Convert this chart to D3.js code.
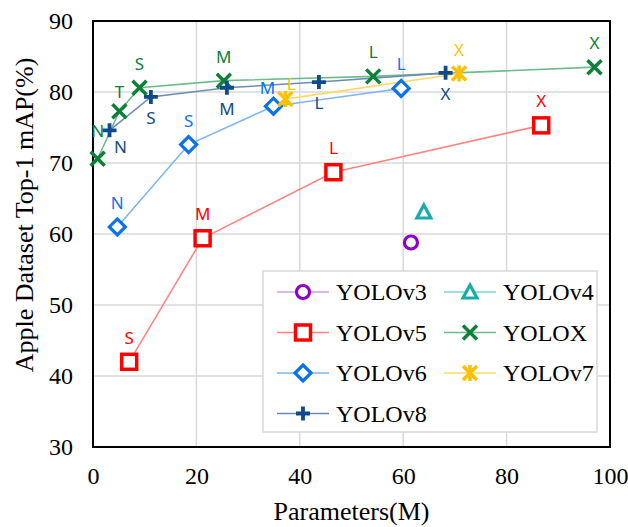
<!DOCTYPE html>
<html>
<head>
<meta charset="utf-8">
<title>Apple Dataset Top-1 mAP vs Parameters</title>
<style>
body{margin:0;background:#fff}
.serif{font-family:"Times New Roman","Liberation Serif",serif}
.lbl{font-family:"Noto Sans","Open Sans",sans-serif}
</style>
</head>
<body>
<script src="https://cdn.jsdelivr.net/npm/d3@7/dist/d3.min.js"></script>
<script>
var width = 628, height = 527;
var margin = {top: 21, right: 18, bottom: 80, left: 93};

// data
var v3Params = [61.5],  v3Map = [58.8],  v3Labels = [""];
var v4Params = [64.0],  v4Map = [63.1],  v4Labels = [""];
var v5Params = [7.0, 21.2, 46.5, 86.7], v5Map = [42.0, 59.4, 68.7, 75.3], v5Labels = ["S","M","L","X"];
var xParams  = [0.9, 5.1, 9.0, 25.3, 54.2, 97.0], xMap = [70.6, 77.3, 80.6, 81.6, 82.2, 83.5], xLabels = ["N","T","S","M","L","X"];
var v6Params = [4.7, 18.5, 34.9, 59.6], v6Map = [61.0, 72.6, 78.0, 80.5], v6Labels = ["N","S","M","L"];
var v7Params = [37.2, 70.8], v7Map = [79.0, 82.6], v7Labels = ["L","X"];
var v8Params = [3.2, 11.2, 25.9, 43.7, 68.2], v8Map = [74.6, 79.3, 80.6, 81.4, 82.7], v8Labels = ["N","S","M","L","X"];

var xTicks = [0, 20, 40, 60, 80, 100];
var yTicks = [30, 40, 50, 60, 70, 80, 90];

var series = [
  {name:"YOLOv3", p:v3Params, m:v3Map, lab:v3Labels, shape:"circle",   color:"#8e00c9", line:"#d39be8", below:false},
  {name:"YOLOv4", p:v4Params, m:v4Map, lab:v4Labels, shape:"triangle", color:"#17abab", line:"#80d5d5", below:false},
  {name:"YOLOv5", p:v5Params, m:v5Map, lab:v5Labels, shape:"square",   color:"#ff0000", line:"#ff8585", below:false},
  {name:"YOLOX",  p:xParams,  m:xMap,  lab:xLabels,  shape:"x",        color:"#0b8038", line:"#6fbb8c", below:false},
  {name:"YOLOv6", p:v6Params, m:v6Map, lab:v6Labels, shape:"diamond",  color:"#0a72ee", line:"#7db5f2", below:false},
  {name:"YOLOv7", p:v7Params, m:v7Map, lab:v7Labels, shape:"star",     color:"#ffc000", line:"#ffd966", below:false},
  {name:"YOLOv8", p:v8Params, m:v8Map, lab:v8Labels, shape:"plus",     color:"#0f4a8c", line:"#6b8cb8", below:true}
];

// small nudges for a few labels
var labelNudge = {"YOLOv8-N":[11,-4], "YOLOv6-M":[-6,6], "YOLOv7-L":[6,9], "YOLOX-T":[0,5], "YOLOX-N":[0,-4]};

var svg = d3.select("body").append("svg")
    .attr("width", width)
    .attr("height", height);

var x = d3.scaleLinear().domain([0,100]).range([margin.left, width - margin.right]);
var y = d3.scaleLinear().domain([30,90]).range([height - margin.bottom, margin.top]);

// grid
svg.append("g").selectAll("line").data(xTicks.slice(1,-1)).enter().append("line")
    .attr("x1", d=>x(d)).attr("x2", d=>x(d))
    .attr("y1", y(30)).attr("y2", y(90))
    .attr("stroke", "#d9d9d9").attr("stroke-width", 1.5);
svg.append("g").selectAll("line").data(yTicks.slice(1,-1)).enter().append("line")
    .attr("y1", d=>y(d)).attr("y2", d=>y(d))
    .attr("x1", x(0)).attr("x2", x(100))
    .attr("stroke", "#d9d9d9").attr("stroke-width", 1.5);

// axes
var xAxis = svg.append("g").attr("transform", "translate(0," + y(30) + ")")
    .call(d3.axisBottom(x).tickValues(xTicks).tickSize(0).tickPadding(20));
var yAxis = svg.append("g").attr("transform", "translate(" + x(0) + ",0)")
    .call(d3.axisLeft(y).tickValues(yTicks).tickSize(0).tickPadding(20));
[xAxis, yAxis].forEach(function(g){
  g.select(".domain").remove();
  g.attr("font-family", null).attr("font-size", null);
  g.selectAll("text").attr("class", "serif")
    .style("font-size", "24px").attr("fill", "#000");
});

// frame
svg.append("rect")
    .attr("x", x(0)).attr("y", y(90))
    .attr("width", x(100) - x(0)).attr("height", y(30) - y(90))
    .attr("fill", "none").attr("stroke", "#000").attr("stroke-width", 2);

svg.append("text").attr("class", "serif")
    .attr("x", (x(0) + x(100)) / 2).attr("y", 520)
    .attr("text-anchor", "middle")
    .style("font-size", "26px")
    .text("Parameters(M)");
svg.append("text").attr("class", "serif")
    .attr("transform", "translate(33,215) rotate(-90)")
    .attr("text-anchor", "middle")
    .style("font-size", "26px")
    .text("Apple Dataset Top-1 mAP(%)");

function drawMarker(g, shape, color) {
  var sw = 3.2;
  if (shape == "circle") {
    g.append("circle").attr("r", 6.5).attr("fill", "#fff").attr("stroke", color).attr("stroke-width", sw);
  } else if (shape == "triangle") {
    g.append("path").attr("d", "M0,-7L7,6L-7,6Z").attr("fill", "#fff").attr("stroke", color).attr("stroke-width", sw);
  } else if (shape == "square") {
    g.append("rect").attr("x", -7.5).attr("y", -7.5).attr("width", 15).attr("height", 15)
      .attr("fill", "#fff").attr("stroke", color).attr("stroke-width", 3.5);
  } else if (shape == "diamond") {
    g.append("path").attr("d", "M0,-8L8,0L0,8L-8,0Z").attr("fill", "#fff").attr("stroke", color).attr("stroke-width", sw);
  } else if (shape == "x") {
    g.append("path").attr("d", "M-7,-7L7,7M7,-7L-7,7").attr("stroke", color).attr("stroke-width", 3.5);
  } else if (shape == "plus") {
    g.append("path").attr("d", "M-7,0L7,0M0,-7L0,7").attr("stroke", color).attr("stroke-width", 3.8);
  } else if (shape == "star") {
    g.append("path").attr("d", "M-7,-7L7,7M7,-7L-7,7M0,-8L0,8").attr("stroke", color).attr("stroke-width", 3.5);
  }
}

var line = d3.line().x(d=>x(d[0])).y(d=>y(d[1]));

// lines
series.forEach(function(s){
  var pts = s.p.map((v,i)=>[v, s.m[i]]);
  if (pts.length > 1) {
    svg.append("path").datum(pts).attr("d", line)
      .attr("fill", "none").attr("stroke", s.line).attr("stroke-width", 1.6);
  }
});

// markers and labels
series.forEach(function(s){
  var pts = s.p.map((v,i)=>({px:v, m:s.m[i], lab:s.lab[i]}));
  var g = svg.append("g");
  pts.forEach(function(d){
    var mg = g.append("g").attr("transform", "translate(" + x(d.px) + "," + y(d.m) + ")");
    drawMarker(mg, s.shape, s.color);
  });
  pts.forEach(function(d){
    if (!d.lab) return;
    var nudge = labelNudge[s.name + "-" + d.lab] || [0,0];
    var dy = s.below ? 27 : -18;
    g.append("text").attr("class", "lbl")
      .attr("x", x(d.px) + nudge[0])
      .attr("y", y(d.m) + dy + nudge[1])
      .attr("text-anchor", "middle")
      .style("font-size", "17px")
      .attr("fill", s.color)
      .text(d.lab);
  });
});

// legend
var legX = 263, legY = 271;
svg.append("rect").attr("x", legX).attr("y", legY).attr("width", 334).attr("height", 161)
  .attr("fill", "#fff").attr("stroke", "#d9d9d9").attr("stroke-width", 1.5);
series.forEach(function(s, i){
  var col = i % 2, row = Math.floor(i / 2);
  var lx = legX + 14 + col * 167, ly = legY + 21 + row * 40.5;
  var lg = svg.append("g").attr("transform", "translate(" + lx + "," + ly + ")");
  lg.append("line").attr("x1", 0).attr("x2", 52).attr("y1", 0).attr("y2", 0)
    .attr("stroke", s.line).attr("stroke-width", 1.6);
  drawMarker(lg.append("g").attr("transform", "translate(26,0)"), s.shape, s.color);
  lg.append("text").attr("class", "serif").attr("x", 59).attr("y", 8)
    .style("font-size", "24px").attr("fill", "#000")
    .text(s.name);
});
</script>
</body>
</html>
